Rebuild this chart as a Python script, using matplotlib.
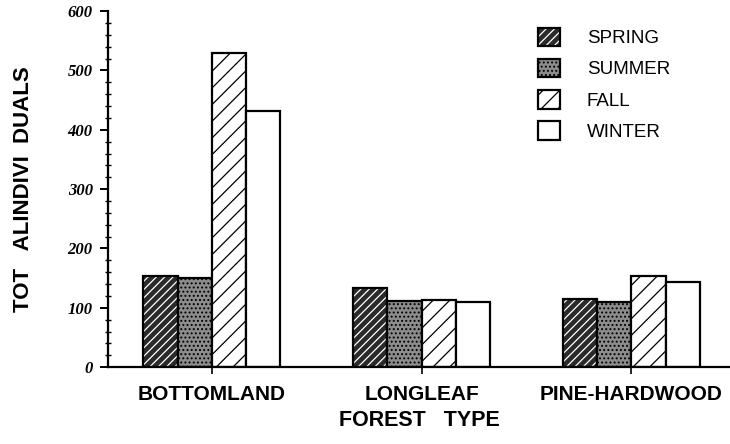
import numpy as np
import matplotlib
matplotlib.use("Agg")
import matplotlib.pyplot as plt
from matplotlib.patches import Patch
from matplotlib.legend_handler import HandlerTuple
from matplotlib.ticker import MultipleLocator

# 데이터
forest_types = ["BOTTOMLAND", "LONGLEAF", "PINE-HARDWOOD"]
seasons = ["SPRING", "SUMMER", "FALL", "WINTER"]
spring = [154, 133, 115]
summer = [151, 111, 110]
fall = [530, 113, 153]
winter = [431, 110, 144]

# 계절별 스타일 (face, hatch, hatch colour)
STYLES = [
    ("#2a2a2a", "////", "white"),
    ("#8c8c8c", "....", "black"),
    ("white", "//", "black"),
    ("white", "", "black"),
]

plt.rcParams["font.family"] = ["Liberation Sans", "DejaVu Sans"]
plt.rcParams["hatch.linewidth"] = 0.9

fig = plt.figure(figsize=(7.3, 4.44), dpi=100)
ax = fig.add_axes([0.148, 0.173, 0.852, 0.802])

x = np.arange(len(forest_types))
width = 0.163
values = [spring, summer, fall, winter]
handles = []
for i, (vals, (face, hatch, hcol)) in enumerate(zip(values, STYLES)):
    pos = x + (i - 1.5) * width
    ax.bar(pos, vals, width, color=face, edgecolor=hcol, hatch=hatch, linewidth=0)
    ax.bar(pos, vals, width, fill=False, edgecolor="black", linewidth=1.6)
    handles.append((Patch(facecolor=face, edgecolor=hcol, hatch=hatch, linewidth=0),
                    Patch(fill=False, edgecolor="black", linewidth=1.6)))

ax.set_xlim(-0.495, 2.47)
ax.set_ylim(0, 600)
ax.spines[["top", "right"]].set_visible(False)
ax.spines["left"].set_linewidth(1.6)
ax.spines["bottom"].set_linewidth(1.6)

ax.set_xticks(x)
ax.set_xticklabels(forest_types, fontsize=15, fontweight="bold")
ax.tick_params(axis="x", direction="out", length=5, width=1.2, pad=8)

ax.yaxis.set_major_locator(MultipleLocator(100))
ax.yaxis.set_minor_locator(MultipleLocator(20))
ax.tick_params(axis="y", which="major", direction="out", length=6, width=1.4, pad=5)
ax.tick_params(axis="y", which="minor", direction="inout", length=4, width=1.0)
for lab in ax.get_yticklabels():
    lab.set_family("Liberation Serif")
    lab.set_fontweight("bold")
    lab.set_fontstyle("italic")
    lab.set_fontsize(12)

ax.set_xlabel("FOREST   TYPE", fontsize=15.5, fontweight="bold", labelpad=4)
ax.set_ylabel("TOT   ALINDIVI  DUALS", fontsize=16, fontweight="bold", labelpad=24)

leg = ax.legend(handles, seasons, handler_map={tuple: HandlerTuple(ndivide=1, pad=0)},
                loc="upper left", bbox_to_anchor=(0.737, 0.938), bbox_transform=fig.transFigure,
                frameon=False, fontsize=13.5, handlelength=1.15, handleheight=1.15,
                handletextpad=1.45, labelspacing=0.62, borderaxespad=0, borderpad=0)

fig.savefig("out.png", dpi=100)
